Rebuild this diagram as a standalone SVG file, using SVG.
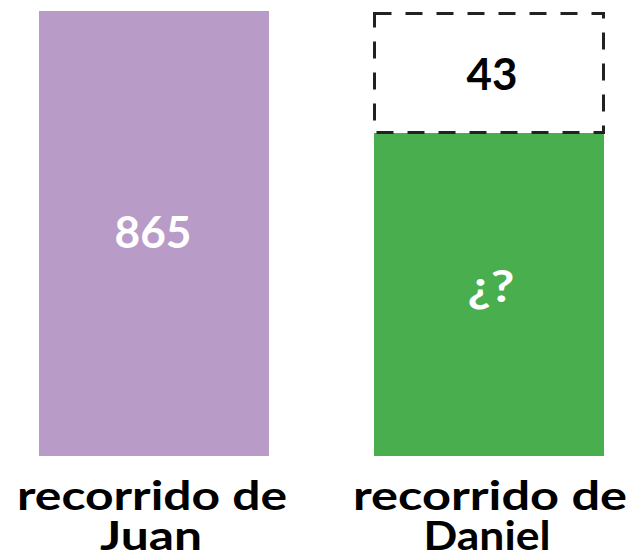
<svg xmlns="http://www.w3.org/2000/svg" width="635" height="555" viewBox="0 0 635 555">
<style>
.t{font-family:"Lato","Noto Sans","Liberation Sans",sans-serif;font-weight:bold;text-anchor:middle}
.lbl{font-size:40px;fill:#000}
.num{font-size:44px}
</style>
<rect width="635" height="555" fill="#fff"/>
<g id="juan">
<rect x="39" y="11" width="230" height="445" fill="#b89bc7"/>
<text class="t num" x="153" y="248" fill="#fff" textLength="77" lengthAdjust="spacingAndGlyphs">865</text>
</g>
<g id="daniel">
<rect x="374" y="133" width="230" height="323" fill="#48ae4e"/>
<text class="t num" x="491" y="302" fill="#fff" textLength="47" lengthAdjust="spacingAndGlyphs">¿?</text>
</g>
<g id="extra">
<rect x="374.5" y="13.5" width="229" height="119" fill="none" stroke="#222" stroke-width="3" stroke-dasharray="17 14"/>
<text class="t num" x="492" y="90" fill="#000" textLength="51" lengthAdjust="spacingAndGlyphs">43</text>
</g>
<g id="labels">
<text class="t lbl" x="152" y="510" textLength="270" lengthAdjust="spacingAndGlyphs">recorrido de</text>
<text class="t lbl" x="151" y="550" textLength="102" lengthAdjust="spacingAndGlyphs">Juan</text>
<text class="t lbl" x="490" y="510" textLength="274" lengthAdjust="spacingAndGlyphs">recorrido de</text>
<text class="t lbl" x="487" y="550" textLength="127" lengthAdjust="spacingAndGlyphs">Daniel</text>
</g>
<g id="connectors"/>
</svg>
